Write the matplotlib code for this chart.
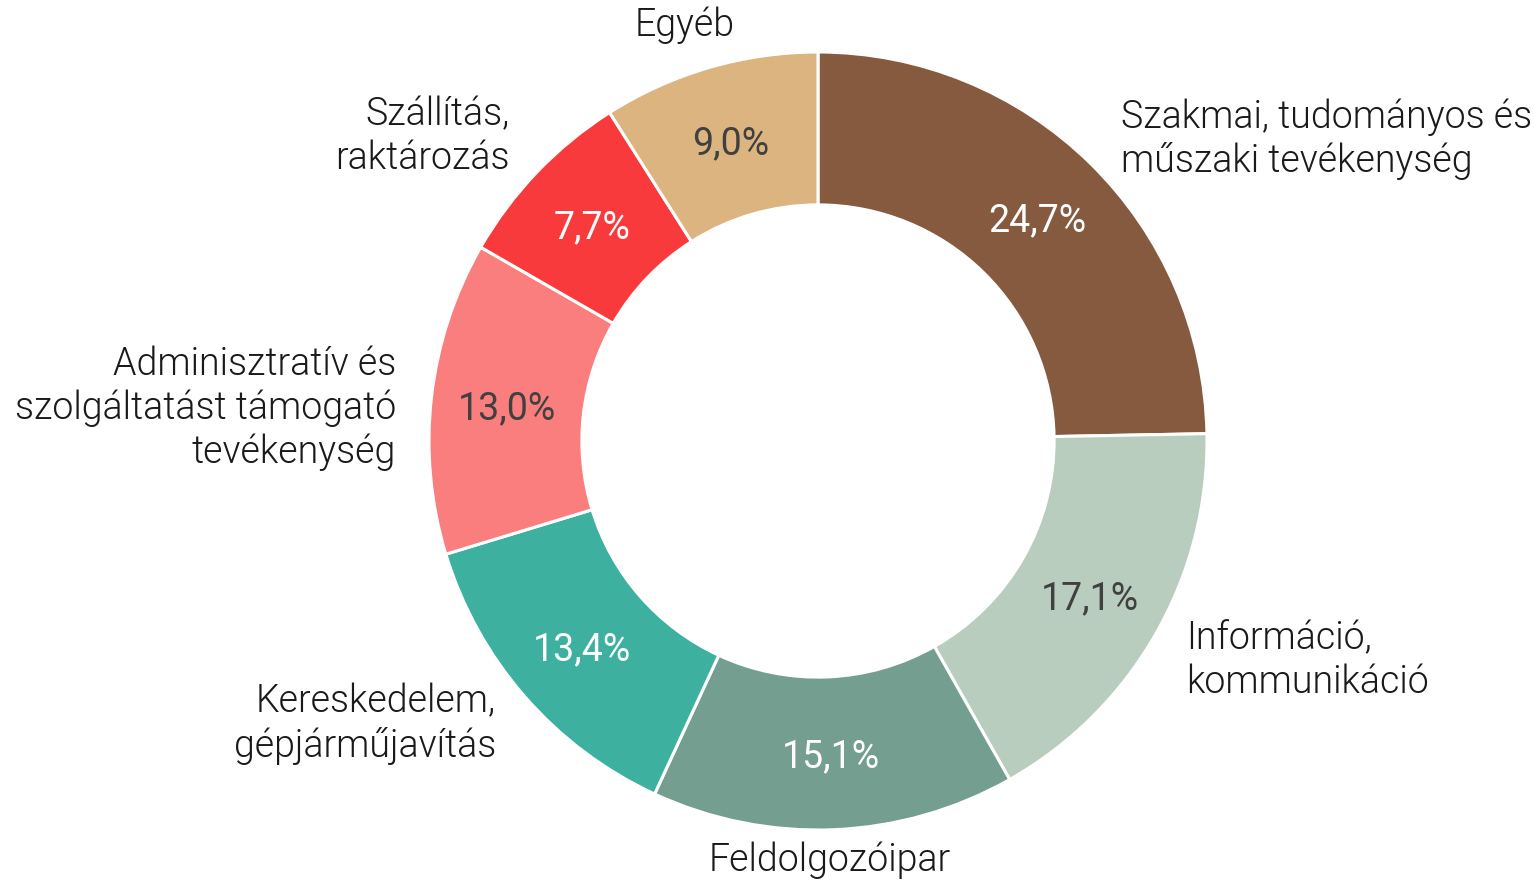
import matplotlib.pyplot as plt
import numpy as np

categories = ["Szakmai, tudományos és\nműszaki tevékenység", "Információ,\nkommunikáció", "Feldolgozóipar",
              "Kereskedelem,\ngépjárműjavítás", "Adminisztratív és\nszolgáltatást támogató\ntevékenység",
              "Szállítás,\nraktározás", "Egyéb"]
values = [24.7, 17.1, 15.1, 13.4, 13.0, 7.7, 9.0]
colors = ["#855A3E", "#B9CDBE", "#739E90", "#3EB09F", "#FA7E7E", "#F93A3C", "#DCB47F"]
pct_colors = ["white", "#404040", "white", "white", "#404040", "white", "#404040"]

# label placement (x, y in axis units, alignment)
label_pos = [(0.779, 0.776, 'left'), (0.946, -0.563, 'left'), (0.031, -1.077, 'center'),
             (-0.828, -0.728, 'right'), (-1.085, 0.085, 'right'), (-0.794, 0.784, 'right'),
             (-0.344, 1.069, 'center')]

plt.rcParams['font.family'] = ['Roboto', 'DejaVu Sans']

fig = plt.figure(figsize=(15.34, 8.82), dpi=100)
ax = fig.add_axes([(818 - 389) / 1534, 52 / 882, 778 / 1534, 778 / 882])

wedges, texts = ax.pie(values, colors=colors, startangle=90, counterclock=False, radius=1,
                       wedgeprops=dict(width=0.393, edgecolor='white', linewidth=2.2))

r_mid = 1 - 0.393 / 2
for w, v, c in zip(wedges, values, pct_colors):
    ang = np.deg2rad((w.theta1 + w.theta2) / 2)
    ax.text(r_mid * np.cos(ang), r_mid * np.sin(ang) - 0.008, f"{v:.1f}%".replace('.', ','),
            ha='center', va='center', fontsize=27, color=c, fontweight=400)

for lab, (x, y, ha) in zip(categories, label_pos):
    ax.text(x, y, lab, ha=ha, va='center', fontsize=27, color='#1a1a1a', fontweight=300,
            multialignment=ha, linespacing=1.22)

ax.set_xlim(-1, 1)
ax.set_ylim(-1, 1)
ax.set_aspect('equal')
ax.axis('off')

fig.savefig('out.png', dpi=100)
